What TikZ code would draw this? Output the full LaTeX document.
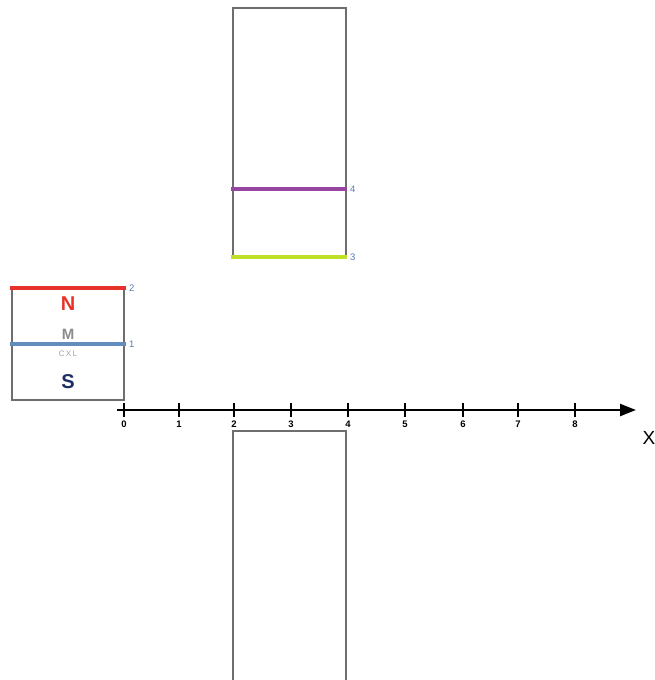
\documentclass[tikz,border=0pt]{standalone}
\usepackage{fontspec}
\setmainfont{Liberation Sans}
\usetikzlibrary{arrows.meta}
\definecolor{boxgray}{RGB}{110,110,110}
\definecolor{nred}{RGB}{230,50,40}
\definecolor{lblue}{RGB}{100,140,190}
\definecolor{mgray}{RGB}{140,140,140}
\definecolor{snavy}{RGB}{30,45,100}
\definecolor{purp}{RGB}{150,70,160}
\definecolor{lgreen}{RGB}{190,225,40}
\definecolor{numblue}{RGB}{90,120,180}
\tikzset{
  box/.style={draw=boxgray, line width=1.3pt},
  colline/.style={line width=3.2pt},
  numlbl/.style={text=numblue, font=\fontsize{9.5}{10}\selectfont, anchor=west, inner sep=1pt},
  ticklbl/.style={font=\bfseries\fontsize{9.5}{10}\selectfont, inner sep=1pt},
}
\begin{document}
\begin{tikzpicture}[x=1pt,y=-1pt]
\useasboundingbox (0,0) rectangle (654,680);
% magnet
\node[box, minimum width=112pt, minimum height=112pt, inner sep=0pt] (mag) at (68,344) {};
\coordinate (r1) at (10,288); \coordinate (r2) at (126,288);
\draw[nred, colline] (r1) -- (r2);
\coordinate (b1) at (10,344); \coordinate (b2) at (126,344);
\draw[lblue, colline] (b1) -- (b2);
\node[numlbl] (l2) at (128,288) {2};
\node[numlbl] (l1) at (128,344) {1};
\node[text=nred, font=\bfseries\fontsize{20}{22}\selectfont] (N) at (68,304) {N};
\node[text=mgray, font=\bfseries\fontsize{15}{16}\selectfont] (M) at (68,334) {M};
\node[text=mgray!80, font=\fontsize{8}{9}\selectfont] (cxl) at (68,354) {C\,X\,L};
\node[text=snavy, font=\bfseries\fontsize{20}{22}\selectfont] (S) at (68,382) {S};
% top rectangle
\node[box, minimum width=113pt, minimum height=250pt, inner sep=0pt] (top) at (289.5,133) {};
\coordinate (p1) at (231,189); \coordinate (p2) at (347,189);
\draw[purp, colline] (p1) -- (p2);
\coordinate (g1) at (231,257); \coordinate (g2) at (347,257);
\draw[lgreen, colline] (g1) -- (g2);
\node[numlbl] (l4) at (349,189) {4};
\node[numlbl] (l3) at (349,257) {3};
% bottom rectangle
\node[box, minimum width=113pt, minimum height=250pt, inner sep=0pt] (bot) at (289.5,556) {};
% axis
\coordinate (a0) at (117,410); \coordinate (a1) at (636,410);
\draw[line width=2.4pt, -{Triangle[length=16pt,width=12pt]}] (a0) -- (a1);
\foreach \i/\xx in {0/124,1/179,2/234,3/291,4/348,5/405,6/463,7/518,8/575}{
  \coordinate (t\i) at (\xx,403);
  \coordinate (u\i) at (\xx,417);
  \draw[line width=1.6pt] (t\i) -- (u\i);
  \node[ticklbl] (tl\i) at (\xx,424) {\i};
}
\node[font=\fontsize{19}{20}\selectfont] (X) at (649,438) {X};
\end{tikzpicture}
\end{document}
